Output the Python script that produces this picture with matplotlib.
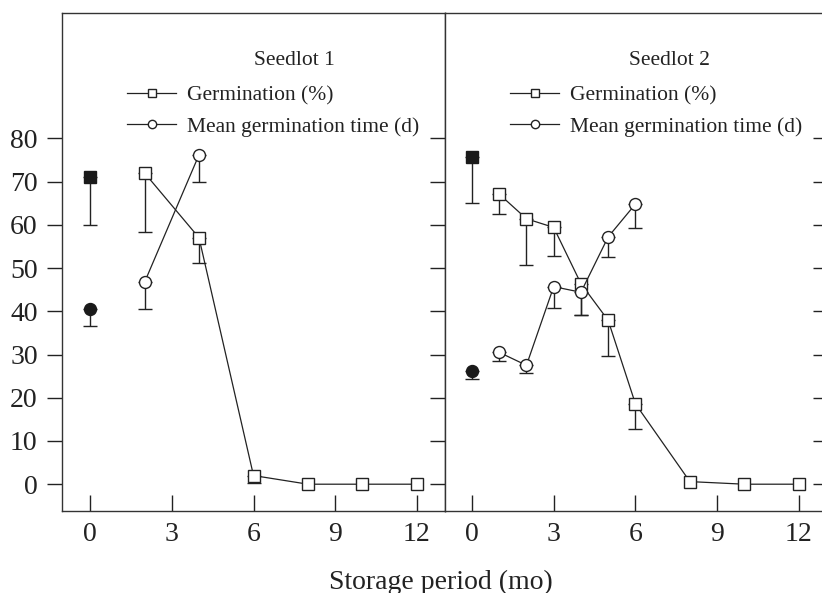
import numpy as np
import matplotlib
matplotlib.use("Agg")
import matplotlib.pyplot as plt
from matplotlib.lines import Line2D

plt.rcParams['font.family'] = ['Liberation Serif', 'DejaVu Serif']

# ---- data ----
# Seedlot 1
s1_fresh_germ, s1_fresh_germ_err = 71.0, 11.1
s1_fresh_mgt, s1_fresh_mgt_err = 40.5, 4.0
s1_germ_months = [2, 4, 6, 8, 10, 12]
s1_germ = [72.0, 57.0, 2.0, 0, 0, 0]
s1_germ_err = [13.6, 5.8, 1.7, 0, 0, 0]
s1_mgt_months = [2, 4]
s1_mgt = [46.7, 76.2]
s1_mgt_err = [6.1, 6.4]

# Seedlot 2
s2_fresh_germ, s2_fresh_germ_err = 75.8, 10.8
s2_fresh_mgt, s2_fresh_mgt_err = 26.1, 1.8
s2_germ_months = [1, 2, 3, 4, 5, 6, 8, 10, 12]
s2_germ = [67.1, 61.4, 59.4, 46.4, 37.9, 18.6, 0.6, 0, 0]
s2_germ_err = [4.6, 10.8, 6.5, 7.3, 8.2, 5.9, 0, 0, 0]
s2_mgt_months = [1, 2, 3, 4, 5, 6]
s2_mgt = [30.5, 27.5, 45.7, 44.4, 57.2, 64.8]
s2_mgt_err = [1.9, 1.7, 5.0, 5.2, 4.7, 5.5]

xticks = [0, 3, 6, 9, 12]
yticks = [0, 10, 20, 30, 40, 50, 60, 70, 80]
panel_titles = ["Seedlot 1", "Seedlot 2"]
legend_labels = ["Germination (%)", "Mean germination time (d)"]
xlabel = "Storage period (mo)"

ink = '#222222'
W, H = 822, 593


def lower_err(ax, x, y, e):
    # only the lower half of the error bar, skip zero ones
    x, y, e = np.array(x, float), np.array(y, float), np.array(e, float)
    m = e > 0
    ax.errorbar(x[m], y[m], yerr=[e[m], np.zeros(m.sum())], fmt='none',
                ecolor=ink, elinewidth=1.0, capsize=4.8, capthick=1.0, zorder=2)


def panel(ax, fresh_g, fresh_g_e, fresh_m, fresh_m_e, gm, g, ge, mm, mg, me):
    lower_err(ax, [0], [fresh_g], [fresh_g_e])
    lower_err(ax, [0], [fresh_m], [fresh_m_e])
    lower_err(ax, gm, g, ge)
    lower_err(ax, mm, mg, me)
    ax.plot(gm, g, color=ink, lw=0.9, marker='s', ms=8.4, mfc='white',
            mec=ink, mew=1.0, zorder=3)
    ax.plot(mm, mg, color=ink, lw=0.9, marker='o', ms=8.6, mfc='white',
            mec=ink, mew=1.0, zorder=3)
    ax.plot([0], [fresh_g], ls='none', marker='s', ms=8.4, color='#1a1a1a', zorder=4)
    ax.plot([0], [fresh_m], ls='none', marker='o', ms=8.6, color='#1a1a1a', zorder=4)
    ax.set_ylim(-6.2, 109.0)
    ax.set_xticks(xticks)
    ax.set_yticks(yticks)
    ax.tick_params(axis='x', direction='in', length=11.5, width=1.0,
                   labelsize=20, pad=8, colors=ink)
    for s in ax.spines.values():
        s.set_linewidth(1.0)
        s.set_color('#333333')


fig = plt.figure(figsize=(W / 100, H / 100), dpi=100)
axw, axh = 383 / W, 498 / H
bot = 1 - 511 / H
ax1 = fig.add_axes([62 / W, bot, axw, axh])
ax2 = fig.add_axes([445 / W, bot, axw, axh])  # runs a bit past the right edge, like the original

panel(ax1, s1_fresh_germ, s1_fresh_germ_err, s1_fresh_mgt, s1_fresh_mgt_err,
      s1_germ_months, s1_germ, s1_germ_err, s1_mgt_months, s1_mgt, s1_mgt_err)
panel(ax2, s2_fresh_germ, s2_fresh_germ_err, s2_fresh_mgt, s2_fresh_mgt_err,
      s2_germ_months, s2_germ, s2_germ_err, s2_mgt_months, s2_mgt, s2_mgt_err)

ax1.set_xlim(-1.03, 13.03)
ax2.set_xlim(-0.99, 13.07)

# y ticks: left panel labelled and outward, right panel unlabelled
ax1.tick_params(axis='y', direction='out', length=11, width=1.0,
                labelsize=20, pad=6.5, colors=ink)
ax2.tick_params(axis='y', direction='out', length=11, width=1.0,
                labelleft=False, colors=ink)
sec = ax2.secondary_yaxis('right')
sec.set_yticks(yticks)
sec.tick_params(direction='in', length=11, width=1.0, labelright=False, colors=ink)

# legend + title in each panel
handles = [Line2D([], [], color=ink, lw=0.9, marker='s', ms=6, mfc='white', mec=ink),
           Line2D([], [], color=ink, lw=0.9, marker='o', ms=6, mfc='white', mec=ink)]
for ax, title, tx in [(ax1, panel_titles[0], 0.608), (ax2, panel_titles[1], 0.585)]:
    ax.text(tx, 0.905, title, transform=ax.transAxes, ha='center', va='center',
            fontsize=15.5, color=ink)
    ax.legend(handles, legend_labels, loc='upper left', bbox_to_anchor=(0.171, 0.855),
              frameon=False, fontsize=15.5, borderpad=0, borderaxespad=0,
              handlelength=2.27, handletextpad=0.5, labelspacing=0.52, labelcolor=ink)

fig.text(441 / W, 1 - 582 / H, xlabel, ha='center', va='center', fontsize=20, color=ink)

fig.savefig("out.png", dpi=100)
